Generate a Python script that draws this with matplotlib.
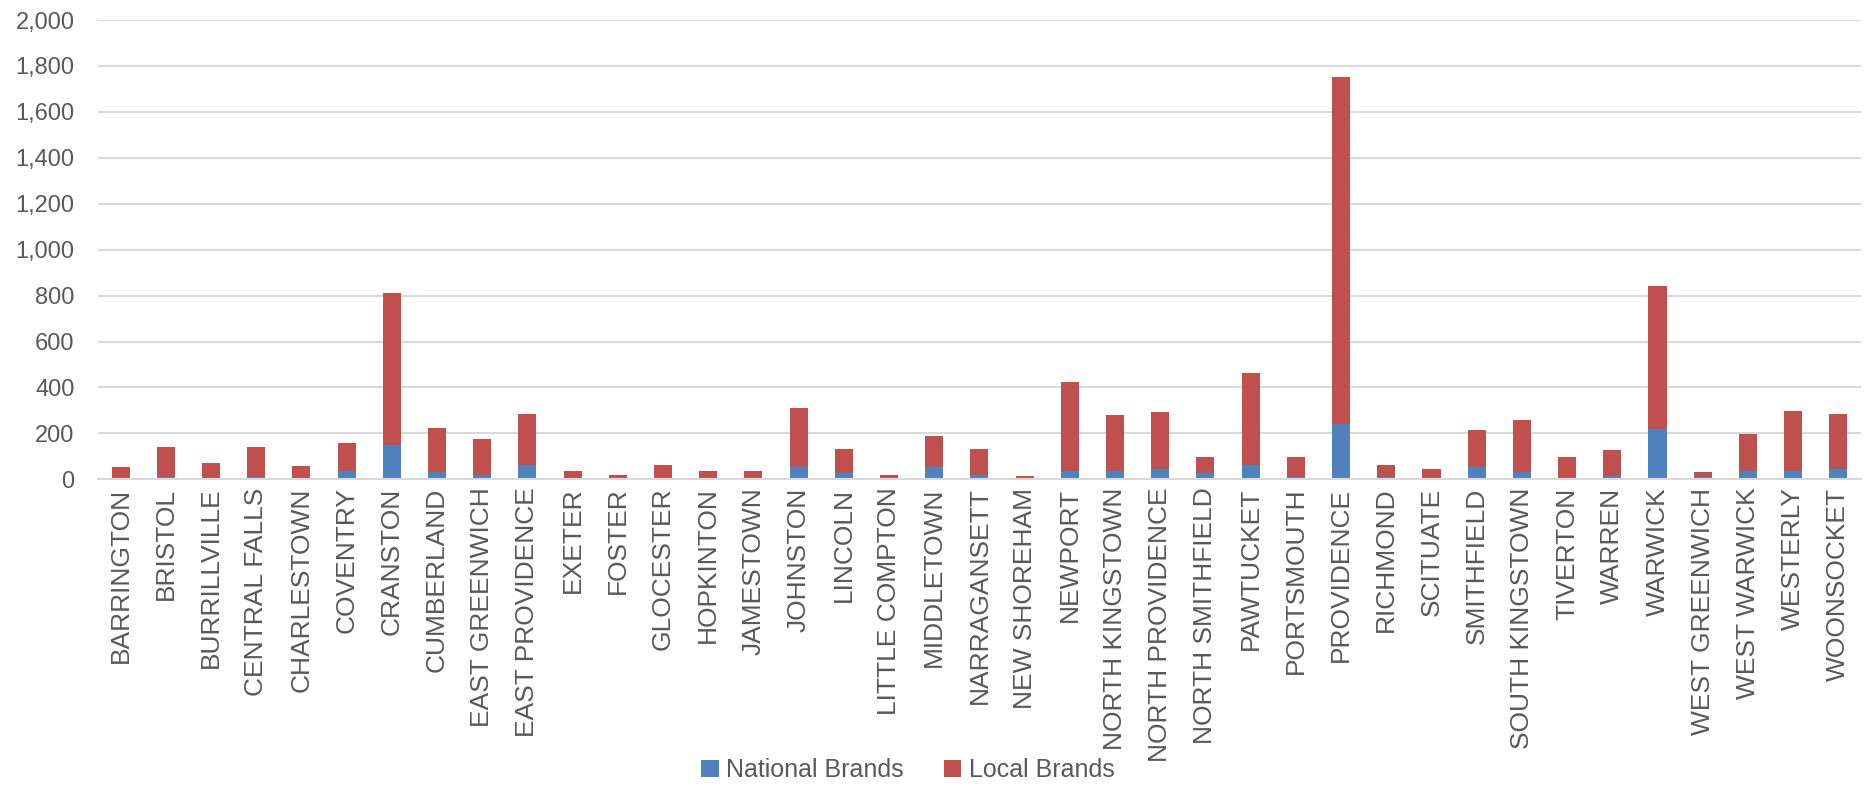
import matplotlib
matplotlib.use("Agg")
import matplotlib.pyplot as plt
import numpy as np

towns = ["BARRINGTON", "BRISTOL", "BURRILLVILLE", "CENTRAL FALLS", "CHARLESTOWN",
         "COVENTRY", "CRANSTON", "CUMBERLAND", "EAST GREENWICH", "EAST PROVIDENCE",
         "EXETER", "FOSTER", "GLOCESTER", "HOPKINTON", "JAMESTOWN", "JOHNSTON",
         "LINCOLN", "LITTLE COMPTON", "MIDDLETOWN", "NARRAGANSETT", "NEW SHOREHAM",
         "NEWPORT", "NORTH KINGSTOWN", "NORTH PROVIDENCE", "NORTH SMITHFIELD",
         "PAWTUCKET", "PORTSMOUTH", "PROVIDENCE", "RICHMOND", "SCITUATE",
         "SMITHFIELD", "SOUTH KINGSTOWN", "TIVERTON", "WARREN", "WARWICK",
         "WEST GREENWICH", "WEST WARWICK", "WESTERLY", "WOONSOCKET"]

national = [7, 12, 2, 9, 3, 36, 149, 32, 19, 61, 1, 0, 2, 1, 1, 54,
            29, 0, 52, 20, 0, 36, 38, 45, 28, 63, 10, 239, 10, 6,
            52, 32, 7, 13, 217, 8, 36, 38, 45]

total = [54, 140, 70, 142, 58, 158, 811, 224, 174, 284, 38, 17, 62, 36, 38, 311,
         132, 17, 188, 133, 14, 423, 279, 292, 97, 462, 97, 1753, 62, 46,
         214, 259, 97, 129, 841, 30, 198, 297, 284]

local = [t - n for t, n in zip(total, national)]

yticks = list(range(0, 2001, 200))

blue = "#4F81BD"
red = "#C0504D"
grid = "#D9D9D9"
txt = "#595959"

plt.rcParams['font.family'] = ['Liberation Sans', 'DejaVu Sans']

fig = plt.figure(figsize=(18.74, 7.87), dpi=100)
ax = fig.add_axes([0.0523, 0.391, 0.9407, 0.5835])

x = np.arange(len(towns))
ax.bar(x, national, width=0.4, color=blue, label="National Brands", zorder=3)
ax.bar(x, local, width=0.4, bottom=national, color=red, label="Local Brands", zorder=3)

ax.set_xlim(-0.5, len(towns) - 0.5)
ax.set_ylim(0, 2000)
ax.set_yticks(yticks)
ax.set_yticklabels([f"{v:,}" for v in yticks])
ax.set_xticks(x)
ax.set_xticklabels(towns, rotation=90)

ax.yaxis.grid(True, color=grid, linewidth=1.5, zorder=0)
ax.set_axisbelow(True)
for s in ["top", "right", "left"]:
    ax.spines[s].set_visible(False)
ax.spines["bottom"].set_color(grid)
ax.spines["bottom"].set_linewidth(1.5)
ax.spines["bottom"].set_zorder(4)

ax.tick_params(axis='y', length=0, pad=17, labelsize=17, labelcolor=txt)
ax.tick_params(axis='x', length=0, pad=6, labelsize=19, labelcolor=txt)

fig.legend(loc='center', bbox_to_anchor=(0.4845, 0.0215), ncol=2, frameon=False,
           fontsize=18, labelcolor=txt, handlelength=0.7, handleheight=0.7,
           handletextpad=0.3, columnspacing=1.6)

fig.savefig("out.png", dpi=100)
